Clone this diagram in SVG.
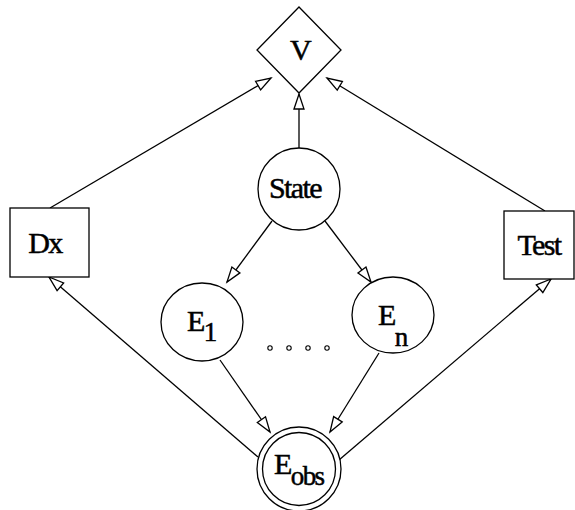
<svg xmlns="http://www.w3.org/2000/svg" width="575" height="510" viewBox="0 0 575 510">
  <style>
    .shape { fill: #fff; stroke: #000; stroke-width: 1.3; }
    .edge { fill: none; stroke: #000; stroke-width: 1.3; marker-end: url(#hollow); }
    .lbl { font-family: "Liberation Serif", "Times New Roman", serif; font-size: 30px; fill: #000; stroke: #000; stroke-width: 0.5; letter-spacing: -1.6px; }
    .sub { font-size: 27px; }
    .dot { fill: none; stroke: #000; stroke-width: 1.1; }
  </style>
  <defs>
    <marker id="hollow" markerUnits="userSpaceOnUse" markerWidth="18" markerHeight="12" refX="15" refY="5.5" orient="auto" overflow="visible">
      <path d="M0,0.5 L15,5.5 L0,10.5 Z" fill="#fff" stroke="#000" stroke-width="1.3" stroke-linejoin="miter"/>
    </marker>
  </defs>

  <g id="connectors">
    <line class="edge" x1="299" y1="148" x2="299" y2="94"/>
    <line class="edge" x1="50" y1="208" x2="271" y2="78"/>
    <line class="edge" x1="545" y1="211" x2="327" y2="78"/>
    <line class="edge" x1="272" y1="221" x2="227" y2="282"/>
    <line class="edge" x1="325" y1="221" x2="371" y2="282"/>
    <line class="edge" x1="220" y1="360" x2="270" y2="432"/>
    <line class="edge" x1="379" y1="353" x2="330" y2="432"/>
    <line class="edge" x1="258" y1="457" x2="49" y2="277"/>
    <line class="edge" x1="339" y1="460" x2="551" y2="279"/>
  </g>

  <g id="node-V">
    <polygon class="shape" points="299,7 341,50 299,93 257,50"/>
    <text class="lbl" x="300" y="60" text-anchor="middle">V</text>
  </g>

  <g id="node-State">
    <circle class="shape" cx="299" cy="189" r="41"/>
    <text class="lbl" x="295" y="198" text-anchor="middle">State</text>
  </g>

  <g id="node-Dx">
    <rect class="shape" x="10" y="208" width="79" height="69"/>
    <text class="lbl" x="45" y="253" text-anchor="middle">Dx</text>
  </g>

  <g id="node-Test">
    <rect class="shape" x="504" y="211" width="70" height="68"/>
    <text class="lbl" x="539" y="255" text-anchor="middle">Test</text>
  </g>

  <g id="node-E1">
    <ellipse class="shape" cx="202" cy="322" rx="41" ry="39"/>
    <text class="lbl" x="187" y="331">E<tspan class="sub" dy="10">1</tspan></text>
  </g>

  <g id="node-En">
    <ellipse class="shape" cx="393" cy="315" rx="41" ry="38"/>
    <text class="lbl" x="378" y="325">E<tspan class="sub" dy="21">n</tspan></text>
  </g>

  <g id="ellipsis">
    <circle class="dot" cx="270" cy="348" r="2.2"/>
    <circle class="dot" cx="289" cy="348" r="2.2"/>
    <circle class="dot" cx="308" cy="348" r="2.2"/>
    <circle class="dot" cx="327" cy="348" r="2.2"/>
  </g>

  <g id="node-Eobs">
    <circle class="shape" cx="299" cy="469" r="42"/>
    <circle class="shape" cx="299" cy="469" r="36.5"/>
    <text class="lbl" x="274" y="474">E<tspan class="sub" dy="11">obs</tspan></text>
  </g>
</svg>
